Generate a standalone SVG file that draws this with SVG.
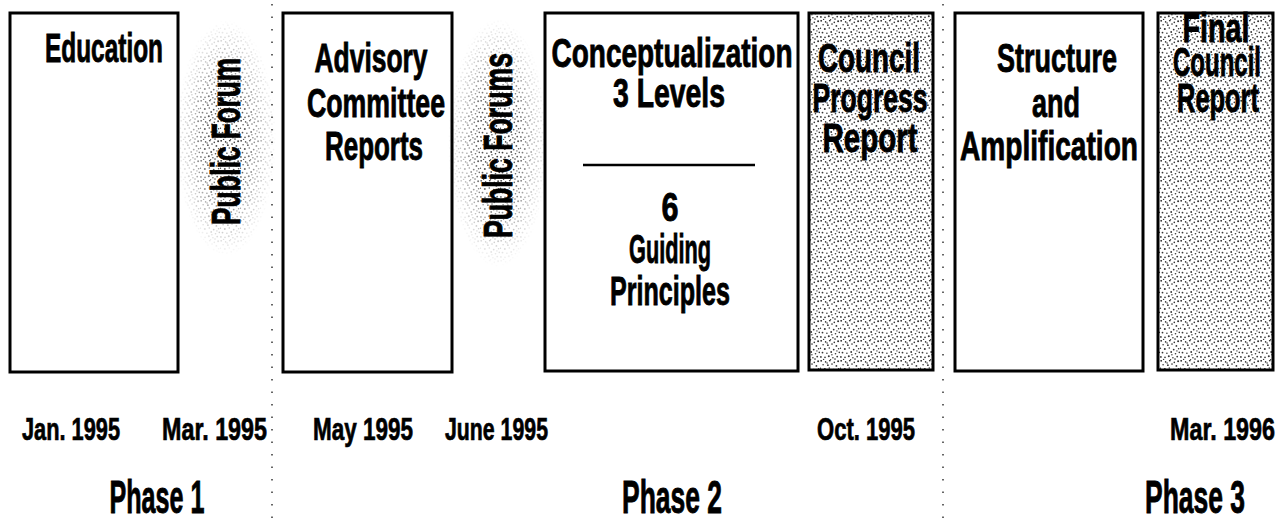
<svg xmlns="http://www.w3.org/2000/svg" width="1285" height="528" viewBox="0 0 1285 528">
<style>
.box{fill:#fff;stroke:#000;stroke-width:3}
.shaded{fill:url(#stip);stroke:#000;stroke-width:3}
.t{font-family:"Liberation Sans",Arial,sans-serif;font-weight:bold;font-size:41px;fill:#000;stroke:#000;stroke-width:0.9;text-anchor:middle}
.d{font-family:"Liberation Sans",Arial,sans-serif;font-weight:bold;font-size:31px;fill:#000;stroke:#000;stroke-width:0.7;text-anchor:start}
.p{font-family:"Liberation Sans",Arial,sans-serif;font-weight:bold;font-size:46px;fill:#000;stroke:#000;stroke-width:0.9;text-anchor:middle}
.sep{stroke:#555;stroke-width:1.8;stroke-dasharray:1.5 11;fill:none}
</style>
<defs>
<pattern id="dots" width="20" height="20" patternUnits="userSpaceOnUse">
<g fill="#333">
<circle cx="1.2" cy="0.8" r="0.9"/><circle cx="5.6" cy="1.9" r="0.8"/><circle cx="9.8" cy="0.6" r="0.9"/>
<circle cx="14.3" cy="2.4" r="0.8"/><circle cx="18.1" cy="1.3" r="1.0"/><circle cx="3.1" cy="4.7" r="0.8"/>
<circle cx="7.9" cy="5.2" r="0.9"/><circle cx="12.0" cy="4.1" r="0.8"/><circle cx="16.4" cy="5.9" r="0.9"/>
<circle cx="0.4" cy="8.3" r="0.8"/><circle cx="4.8" cy="9.1" r="1.0"/><circle cx="9.3" cy="8.0" r="0.8"/>
<circle cx="13.7" cy="9.6" r="0.9"/><circle cx="18.6" cy="8.7" r="0.8"/><circle cx="2.5" cy="12.6" r="0.9"/>
<circle cx="6.9" cy="13.3" r="0.8"/><circle cx="11.2" cy="12.0" r="0.9"/><circle cx="15.5" cy="13.8" r="0.8"/>
<circle cx="19.3" cy="12.4" r="0.8"/><circle cx="0.9" cy="16.9" r="0.9"/><circle cx="5.0" cy="17.4" r="0.8"/>
<circle cx="8.8" cy="16.2" r="1.0"/><circle cx="12.9" cy="17.8" r="0.8"/><circle cx="17.2" cy="16.6" r="0.9"/>
<circle cx="3.6" cy="19.5" r="0.7"/><circle cx="10.6" cy="19.6" r="0.7"/><circle cx="15.0" cy="19.1" r="0.8"/>
<circle cx="7.1" cy="3.0" r="0.7"/><circle cx="16.9" cy="10.9" r="0.7"/><circle cx="11.9" cy="14.8" r="0.7"/>
</g>
</pattern>
<pattern id="stip" width="20" height="20" patternUnits="userSpaceOnUse">
<rect width="20" height="20" fill="#fff"/>
<rect width="20" height="20" fill="url(#dots)"/>
</pattern>
<radialGradient id="fadeGrad" cx="0.5" cy="0.5" r="0.5">
<stop offset="0" stop-color="#fff"/>
<stop offset="0.4" stop-color="#fff" stop-opacity="0.8"/>
<stop offset="0.75" stop-color="#fff" stop-opacity="0.3"/>
<stop offset="1" stop-color="#fff" stop-opacity="0"/>
</radialGradient>
<mask id="fade" maskContentUnits="objectBoundingBox">
<rect width="1" height="1" fill="url(#fadeGrad)"/>
</mask>
</defs>
<rect width="1285" height="528" fill="#fff"/>

<g id="connectors">
<line class="sep" x1="272" y1="4" x2="272" y2="526"/>
<line class="sep" x1="943" y1="4" x2="943" y2="526"/>
</g>

<g id="education">
<rect class="box" x="10" y="13" width="168" height="359"/>
<text class="t" x="104" y="62" textLength="118" lengthAdjust="spacingAndGlyphs">Education</text>
</g>

<g id="public-forum">
<ellipse cx="226" cy="138" rx="50" ry="118" fill="url(#dots)" mask="url(#fade)"/>
<text class="t" transform="translate(240,225) rotate(-90)" x="0" y="0" style="text-anchor:start" textLength="167" lengthAdjust="spacingAndGlyphs">Public Forum</text>
</g>

<g id="advisory">
<rect class="box" x="283" y="13" width="169" height="359"/>
<text class="t" x="371" y="72" textLength="113" lengthAdjust="spacingAndGlyphs">Advisory</text>
<text class="t" x="376" y="117" textLength="138" lengthAdjust="spacingAndGlyphs">Committee</text>
<text class="t" x="374" y="160" textLength="98" lengthAdjust="spacingAndGlyphs">Reports</text>
</g>

<g id="public-forums">
<ellipse cx="498" cy="143" rx="50" ry="124" fill="url(#dots)" mask="url(#fade)"/>
<text class="t" transform="translate(512,238) rotate(-90)" x="0" y="0" style="text-anchor:start" textLength="185" lengthAdjust="spacingAndGlyphs">Public Forums</text>
</g>

<g id="conceptualization">
<rect class="box" x="545" y="13" width="253" height="358"/>
<text class="t" x="672" y="67" textLength="241" lengthAdjust="spacingAndGlyphs">Conceptualization</text>
<text class="t" x="669" y="107" textLength="112" lengthAdjust="spacingAndGlyphs">3 Levels</text>
<line x1="583" y1="165" x2="755" y2="165" stroke="#000" stroke-width="2.5"/>
<text class="t" x="670" y="221" textLength="17" lengthAdjust="spacingAndGlyphs">6</text>
<text class="t" x="670" y="263" textLength="82" lengthAdjust="spacingAndGlyphs">Guiding</text>
<text class="t" x="670" y="305" textLength="120" lengthAdjust="spacingAndGlyphs">Principles</text>
</g>

<g id="council-progress">
<rect class="shaded" x="809" y="13" width="124" height="357"/>
<text class="t" x="869" y="72" textLength="102" lengthAdjust="spacingAndGlyphs">Council</text>
<text class="t" x="870" y="112" textLength="115" lengthAdjust="spacingAndGlyphs">Progress</text>
<text class="t" x="870" y="152" textLength="95" lengthAdjust="spacingAndGlyphs">Report</text>
</g>

<g id="structure">
<rect class="box" x="955" y="13" width="188" height="358"/>
<text class="t" x="1057" y="72" textLength="120" lengthAdjust="spacingAndGlyphs">Structure</text>
<text class="t" x="1056" y="117" textLength="48" lengthAdjust="spacingAndGlyphs">and</text>
<text class="t" x="1049" y="160" textLength="178" lengthAdjust="spacingAndGlyphs">Amplification</text>
</g>

<g id="final-council">
<rect class="shaded" x="1158" y="13" width="115" height="357"/>
<text class="t" x="1216" y="42" textLength="67" lengthAdjust="spacingAndGlyphs">Final</text>
<text class="t" x="1217" y="76" textLength="88" lengthAdjust="spacingAndGlyphs">Council</text>
<text class="t" x="1218" y="112" textLength="82" lengthAdjust="spacingAndGlyphs">Report</text>
</g>

<g id="dates">
<text class="d" x="22" y="440" textLength="98" lengthAdjust="spacingAndGlyphs">Jan. 1995</text>
<text class="d" x="162" y="440" textLength="105" lengthAdjust="spacingAndGlyphs">Mar. 1995</text>
<text class="d" x="313" y="440" textLength="100" lengthAdjust="spacingAndGlyphs">May 1995</text>
<text class="d" x="445" y="440" textLength="103" lengthAdjust="spacingAndGlyphs">June 1995</text>
<text class="d" x="817" y="440" textLength="98" lengthAdjust="spacingAndGlyphs">Oct. 1995</text>
<text class="d" x="1170" y="440" textLength="105" lengthAdjust="spacingAndGlyphs">Mar. 1996</text>
</g>

<g id="phases">
<text class="p" x="157" y="513" textLength="95" lengthAdjust="spacingAndGlyphs">Phase 1</text>
<text class="p" x="672" y="513" textLength="100" lengthAdjust="spacingAndGlyphs">Phase 2</text>
<text class="p" x="1195" y="513" textLength="100" lengthAdjust="spacingAndGlyphs">Phase 3</text>
</g>
</svg>
